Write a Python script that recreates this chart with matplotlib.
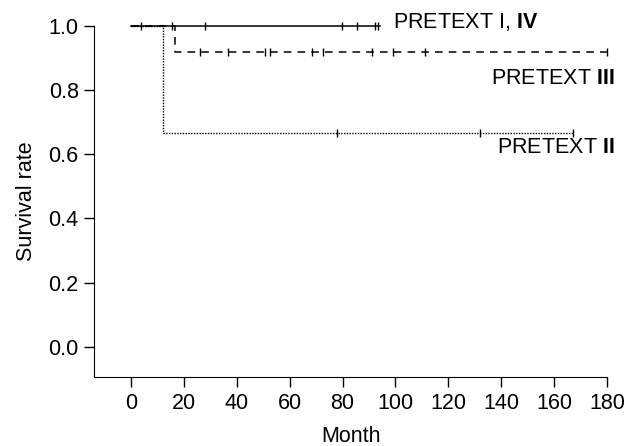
import matplotlib
matplotlib.use("Agg")
import matplotlib.pyplot as plt

plt.rcParams['font.family'] = ['Liberation Sans', 'DejaVu Sans']
plt.rcParams['mathtext.fontset'] = 'custom'
plt.rcParams['mathtext.rm'] = 'Liberation Sans'
plt.rcParams['mathtext.bf'] = 'Liberation Sans:bold'

# Kaplan-Meier step data (time in months, survival)
g14_time = [0, 94]
g14_surv = [1.0, 1.0]
g14_cens = [3.7, 15.6, 28, 79.7, 85.3, 92.2, 93.4]

g3_time = [0, 16.6, 180]
g3_surv = [1.0, 0.917, 0.917]
g3_cens = [26, 36.5, 50.5, 52.5, 68.5, 72.5, 91, 99, 111, 180]

g2_time = [0, 12.2, 167]
g2_surv = [1.0, 0.667, 0.667]
g2_cens = [77.8, 132, 167]

xticks = [0, 20, 40, 60, 80, 100, 120, 140, 160, 180]
yticks = [0.0, 0.2, 0.4, 0.6, 0.8, 1.0]

fig = plt.figure(figsize=(6.37, 4.46), dpi=100)
ax = fig.add_axes([0.1476, 0.154, 0.8054, 0.7884])

def surv_at(times, survs, t):
    s = survs[0]
    for tt, ss in zip(times, survs):
        if t >= tt:
            s = ss
    return s

ax.step(g2_time, g2_surv, where='post', color='black', lw=1.0, ls=(0, (1, 1)), clip_on=False)
ax.step(g3_time, g3_surv, where='post', color='black', lw=1.1, ls=(0, (5, 4)), clip_on=False)
ax.step(g14_time, g14_surv, where='post', color='black', lw=1.1, ls='-', clip_on=False)

for cens, times, survs in [(g14_cens, g14_time, g14_surv),
                           (g3_cens, g3_time, g3_surv),
                           (g2_cens, g2_time, g2_surv)]:
    ys = [surv_at(times, survs, c) for c in cens]
    ax.plot(cens, ys, ls='none', marker='|', color='black', ms=6, mew=1.0, clip_on=False)

ax.set_xlim(-14, 180)
ax.set_ylim(-0.095, 1.0)
ax.set_xticks(xticks)
ax.set_yticks(yticks)
ax.set_yticklabels([f"{v:.1f}" for v in yticks])
ax.spines['top'].set_visible(False)
ax.spines['right'].set_visible(False)
ax.tick_params(direction='out', length=7, width=1, labelsize=15.5, pad=4)
ax.set_xlabel('Month', fontsize=15.5, labelpad=9)
ax.set_ylabel('Survival rate', fontsize=15.5, labelpad=8)

ax.text(99, 1.01, r'PRETEXT I, $\mathbf{IV}$', fontsize=15.5, ha='left', va='center', clip_on=False)
ax.text(183, 0.834, r'PRETEXT $\mathbf{III}$', fontsize=15.5, ha='right', va='center', clip_on=False)
ax.text(183, 0.622, r'PRETEXT $\mathbf{II}$', fontsize=15.5, ha='right', va='center', clip_on=False)

fig.savefig('out.png', dpi=100)
